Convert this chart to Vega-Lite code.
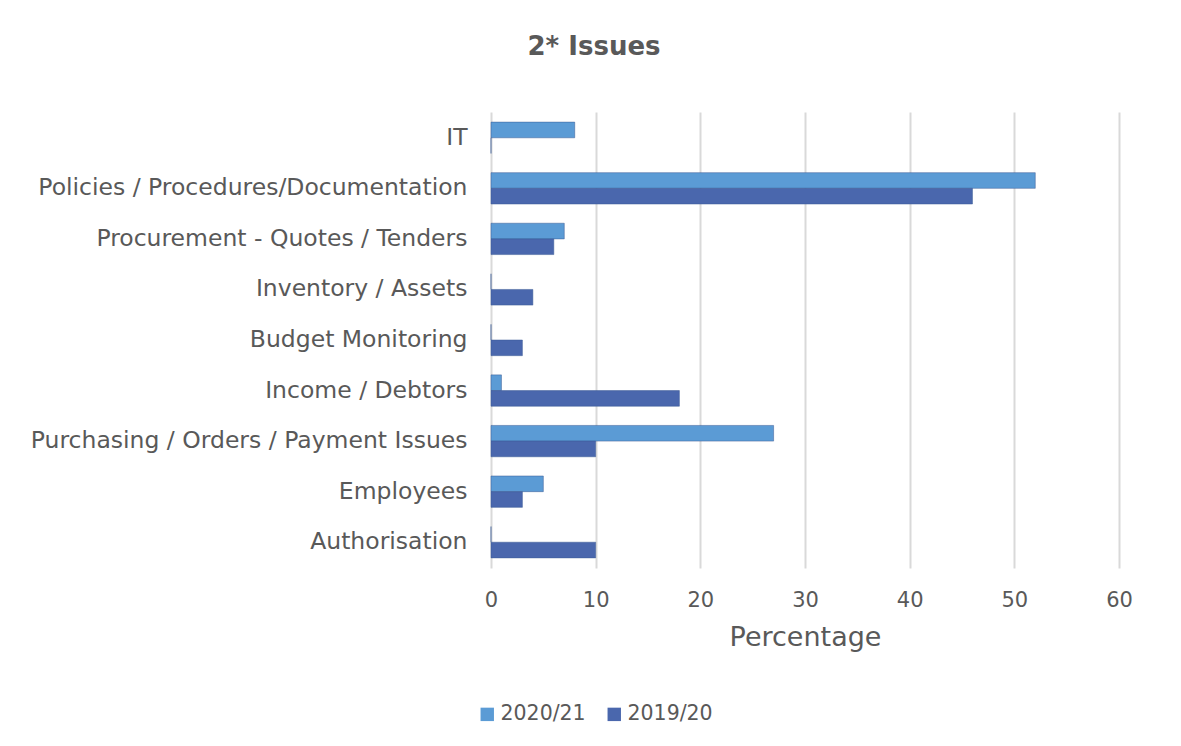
{
  "$schema": "https://vega.github.io/schema/vega-lite/v6.json",
  "width": 628,
  "height": 456,
  "autosize": {"type": "none"},
  "padding": {"left": 491, "top": 112, "right": 62, "bottom": 178},
  "background": "white",
  "title": {
    "text": "2* Issues",
    "anchor": "middle",
    "frame": "group",
    "dx": -211,
    "offset": 52,
    "fontSize": 26,
    "fontWeight": "bold",
    "font": "DejaVu Sans",
    "color": "#595959"
  },
  "data": {
    "values": [
      {"category": "IT", "year": "2020/21", "value": 8},
      {"category": "IT", "year": "2019/20", "value": 0},
      {"category": "Policies / Procedures/Documentation", "year": "2020/21", "value": 52},
      {"category": "Policies / Procedures/Documentation", "year": "2019/20", "value": 46},
      {"category": "Procurement - Quotes / Tenders", "year": "2020/21", "value": 7},
      {"category": "Procurement - Quotes / Tenders", "year": "2019/20", "value": 6},
      {"category": "Inventory / Assets", "year": "2020/21", "value": 0},
      {"category": "Inventory / Assets", "year": "2019/20", "value": 4},
      {"category": "Budget Monitoring", "year": "2020/21", "value": 0},
      {"category": "Budget Monitoring", "year": "2019/20", "value": 3},
      {"category": "Income / Debtors", "year": "2020/21", "value": 1},
      {"category": "Income / Debtors", "year": "2019/20", "value": 18},
      {"category": "Purchasing / Orders / Payment Issues", "year": "2020/21", "value": 27},
      {"category": "Purchasing / Orders / Payment Issues", "year": "2019/20", "value": 10},
      {"category": "Employees", "year": "2020/21", "value": 5},
      {"category": "Employees", "year": "2019/20", "value": 3},
      {"category": "Authorisation", "year": "2020/21", "value": 0},
      {"category": "Authorisation", "year": "2019/20", "value": 10}
    ]
  },
  "mark": {"type": "bar", "stroke": "#3A5A94", "strokeWidth": 0.5},
  "encoding": {
    "y": {
      "field": "category",
      "type": "nominal",
      "sort": null,
      "scale": {"paddingInner": 0.38, "paddingOuter": 0.2},
      "axis": {
        "title": null,
        "domain": false,
        "ticks": false,
        "labelPadding": 24,
        "labelFontSize": 23.5,
        "labelFont": "DejaVu Sans",
        "labelColor": "#595959",
        "labelLimit": 500
      }
    },
    "yOffset": {
      "field": "year",
      "type": "nominal",
      "sort": ["2020/21", "2019/20"]
    },
    "x": {
      "field": "value",
      "type": "quantitative",
      "scale": {"domain": [0, 60], "nice": false},
      "axis": {
        "title": "Percentage",
        "values": [0, 10, 20, 30, 40, 50, 60],
        "domain": false,
        "ticks": false,
        "grid": true,
        "gridColor": "#D9D9D9",
        "gridWidth": 2,
        "labelFlush": false,
        "labelPadding": 21,
        "labelFontSize": 21,
        "labelFont": "DejaVu Sans",
        "labelColor": "#595959",
        "titleFontSize": 27,
        "titleFont": "DejaVu Sans",
        "titleFontWeight": "normal",
        "titleColor": "#595959",
        "titlePadding": 14
      }
    },
    "color": {
      "field": "year",
      "type": "nominal",
      "sort": ["2020/21", "2019/20"],
      "scale": {"domain": ["2020/21", "2019/20"], "range": ["#5B9BD5", "#4A67AD"]},
      "legend": {
        "title": null,
        "orient": "none",
        "legendX": -14,
        "legendY": 592,
        "direction": "horizontal",
        "symbolType": "square",
        "symbolSize": 180,
        "symbolStrokeWidth": 0,
        "labelFontSize": 20.5,
        "labelFont": "DejaVu Sans",
        "labelColor": "#595959",
        "columnPadding": 18,
        "labelOffset": 3
      }
    }
  },
  "config": {"view": {"stroke": null}}
}
